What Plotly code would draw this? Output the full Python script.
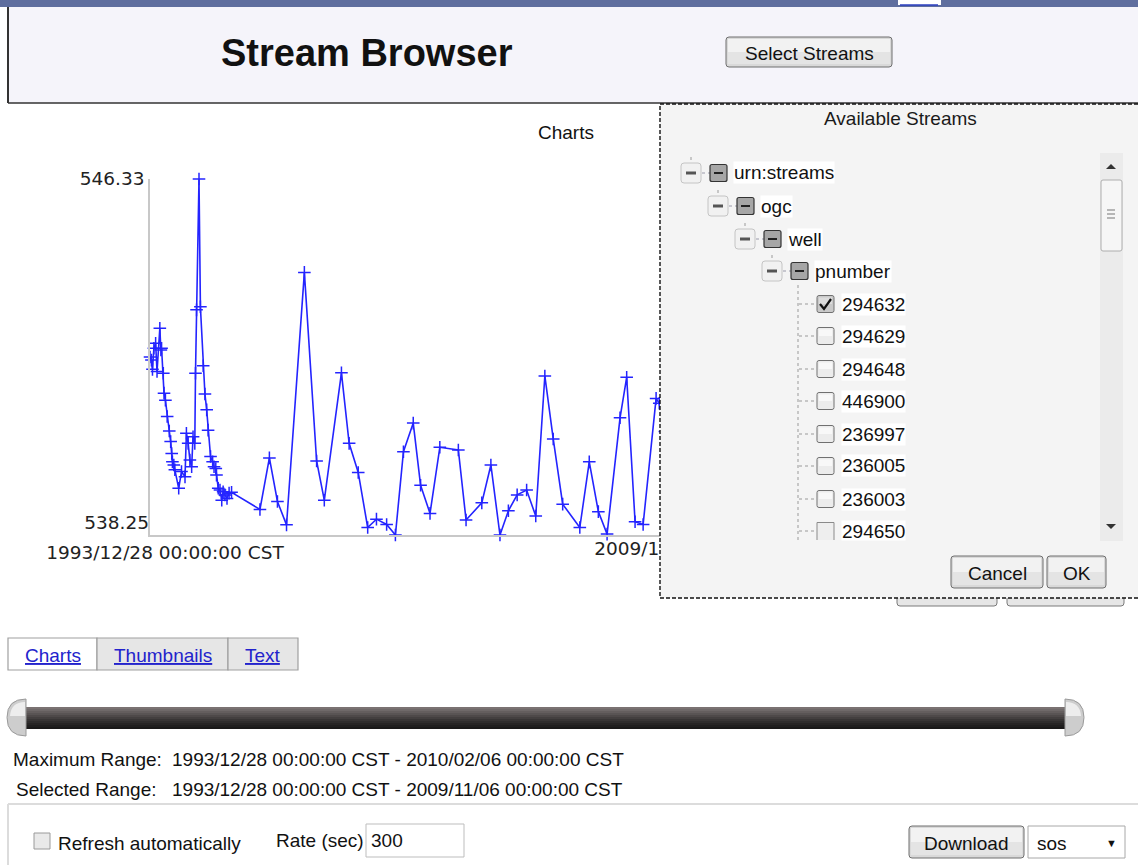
import datetime as dt
import plotly.graph_objects as go

# ---------------- data ----------------
years = [1993.99, 1994.03, 1994.06, 1994.10, 1994.15, 1994.19, 1994.27, 1994.30, 1994.32, 1994.37,
         1994.39, 1994.43, 1994.48, 1994.54, 1994.58, 1994.61, 1994.63, 1994.67, 1994.70, 1994.81,
         1994.89, 1994.99, 1995.03, 1995.08, 1995.13, 1995.18, 1995.22, 1995.27, 1995.29, 1995.32,
         1995.39, 1995.43, 1995.51, 1995.56, 1995.61, 1995.65, 1995.72, 1995.78, 1995.82, 1995.87,
         1995.89, 1995.94, 1995.99, 1996.04, 1996.08, 1996.13, 1996.19, 1996.25, 1996.32, 1997.13,
         1997.40, 1997.63, 1997.89, 1998.40, 1998.75, 1998.97, 1999.46, 1999.68, 1999.94, 2000.21,
         2000.46, 2000.75, 2001.00, 2001.23, 2001.51, 2001.72, 2001.99, 2002.27, 2002.80, 2003.02,
         2003.47, 2003.73, 2003.99, 2004.23, 2004.48, 2004.75, 2005.01, 2005.27, 2005.51, 2005.78,
         2006.27, 2006.54, 2006.80, 2007.05, 2007.42, 2007.61, 2007.85, 2008.08, 2008.45, 2008.54,
         2008.70]
levels = [542.29, 542.22, 542.01, 542.49, 542.60, 541.96, 542.94, 542.45, 542.49, 541.92,
          541.47, 541.31, 540.94, 540.61, 540.37, 540.10, 539.91, 539.84, 539.73, 539.31,
          539.69, 539.57, 540.56, 540.33, 539.95, 539.80, 540.48, 540.33, 541.92, 543.36,
          546.33, 543.43, 542.09, 541.45, 541.09, 540.63, 540.03, 539.91, 539.80, 539.76,
          539.61, 539.31, 539.27, 539.04, 539.23, 539.16, 539.08, 539.20, 539.22, 538.83,
          540.00, 539.01, 538.48, 544.21, 539.93, 539.04, 541.93, 540.33, 539.67, 538.42,
          538.61, 538.49, 538.25, 540.14, 540.79, 539.38, 538.74, 540.24, 540.18, 538.59,
          538.98, 539.84, 538.25, 538.80, 539.16, 539.27, 538.68, 541.86, 540.43, 538.95,
          538.42, 539.91, 538.78, 538.27, 540.91, 541.83, 538.55, 538.49, 541.35, 541.24,
          540.60]
x_range = ["1993-12-28", "2009-11-06"]
x_tick_text = ["1993/12/28 00:00:00 CST", "2009/11/06 00:00:00 CST"]
y_range = [538.25, 546.33]
y_tick_text = ["538.25", "546.33"]
tree_nodes = ["urn:streams", "ogc", "well", "pnumber"]
stream_ids = ["294632", "294629", "294648", "446900", "236997", "236005", "236003", "294650"]
checked = [True, False, False, False, False, False, False, False]
tabs = ["Charts", "Thumbnails", "Text"]
max_range = "1993/12/28 00:00:00 CST - 2010/02/06 00:00:00 CST"
sel_range = "1993/12/28 00:00:00 CST - 2009/11/06 00:00:00 CST"


def to_date(y):
    yr = int(y)
    start = dt.datetime(yr, 1, 1)
    days = (dt.datetime(yr + 1, 1, 1) - start).days
    return start + dt.timedelta(days=(y - yr) * days)


dates = [to_date(y) for y in years]

W, H = 1138, 865
UI = "Liberation Sans, Arial, sans-serif"
AX = "DejaVu Sans, Verdana, sans-serif"


def X(x):
    return x / W


def Y(y):
    return 1 - y / H


shapes = []
annotations = []


def rect(x0, y0, x1, y1, fill="rgba(0,0,0,0)", line=None, lw=1, dash="solid"):
    shapes.append(dict(type="rect", xref="paper", yref="paper",
                       x0=X(x0), y0=Y(y1), x1=X(x1), y1=Y(y0), fillcolor=fill,
                       line=dict(color=line if line else "rgba(0,0,0,0)",
                                 width=lw if line else 0, dash=dash), layer="above"))


def seg(x0, y0, x1, y1, color, lw=1, dash="solid"):
    shapes.append(dict(type="line", xref="paper", yref="paper",
                       x0=X(x0), y0=Y(y0), x1=X(x1), y1=Y(y1),
                       line=dict(color=color, width=lw, dash=dash), layer="above"))


def path(pts, fill, line=None, lw=1, closed=True):
    cmds = []
    for p in pts:
        if p[0] == "Q":
            cmds.append(f"Q {X(p[1])},{Y(p[2])} {X(p[3])},{Y(p[4])}")
        else:
            cmds.append(f"{p[0]} {X(p[1])},{Y(p[2])}")
    s = " ".join(cmds) + (" Z" if closed else "")
    shapes.append(dict(type="path", xref="paper", yref="paper", path=s, fillcolor=fill,
                       line=dict(color=line if line else "rgba(0,0,0,0)", width=lw if line else 0),
                       layer="above"))


def rrect(x0, y0, x1, y1, r, fill, line=None, lw=1):
    path([("M", x0 + r, y0), ("L", x1 - r, y0), ("Q", x1, y0, x1, y0 + r),
          ("L", x1, y1 - r), ("Q", x1, y1, x1 - r, y1), ("L", x0 + r, y1),
          ("Q", x0, y1, x0, y1 - r), ("L", x0, y0 + r), ("Q", x0, y0, x0 + r, y0)],
         fill, line, lw)


def text(x, y, s, size=19, color="#111111", anchor="left", family=UI, bg=None, **kw):
    d = dict(xref="paper", yref="paper", x=X(x), y=Y(y), text=s, showarrow=False,
             xanchor=anchor, yanchor=kw.pop("yanchor", "middle"),
             font=dict(family=family, size=size, color=color), borderpad=0)
    if bg:
        d["bgcolor"] = bg
    d.update(kw)
    annotations.append(d)


def button(x0, y0, x1, y1, label, size=19):
    rrect(x0, y0, x1, y1, 3, "#d9d9d9", "#6f6f6f", 1)
    rect(x0 + 2, y0 + 2, x1 - 2, (y0 + y1) / 2, fill="#f2f2f2")
    rect(x0 + 2, (y0 + y1) / 2, x1 - 2, y1 - 3, fill="#e4e4e4")
    text((x0 + x1) / 2, (y0 + y1) / 2 + 1, label, size=size, anchor="center")


# ---------------- page chrome ----------------
rect(0, 0, W, 7, fill="#5f6e9e")
rect(898, 0, 941, 5, fill="#ffffff")
seg(900, 5, 938, 5, "#2b3fc0", 1.5)
rect(8, 7, W + 2, 103, fill="#f5f4fa")
seg(8, 7, 8, 103, "#333333", 2)
seg(8, 103, W, 103, "#333333", 1.5)
text(367, 53, "<b>Stream Browser</b>", size=38, anchor="center")
button(726, 37, 892, 67, "Select Streams")

text(566, 133, "Charts", size=19, anchor="center")

# tabs
tab_x = [(8, 97), (97, 228), (228, 298)]
for i, (lbl, (a, b)) in enumerate(zip(tabs, tab_x)):
    rect(a, 638, b, 670, fill="#ffffff" if i == 0 else "#e6e6e6", line="#a0a0a0", lw=1.2)
    text((a + b) / 2, 655, f"<u>{lbl}</u>", size=19, color="#2323cc", anchor="center")

# slider
strip_cols = ["#7a7272", "#6f6969", "#645e5e", "#595454", "#4e4949", "#433f3f",
              "#383535", "#2f2d2d", "#272525", "#201f1f", "#1a1919"]
for i, c in enumerate(strip_cols):
    rect(20, 707 + 2 * i, 1070, 709 + 2 * i, fill=c)
path([("M", 26, 699), ("Q", 7, 699, 7, 717.5), ("Q", 7, 736, 26, 736)], "#cdcdcd", "#9a9a9a", 1)
path([("M", 25, 702), ("Q", 11, 702, 10, 716), ("L", 25, 716)], "#ededed")
path([("M", 1065, 699), ("Q", 1084, 699, 1084, 717.5), ("Q", 1084, 736, 1065, 736)], "#cdcdcd", "#9a9a9a", 1)
path([("M", 1066, 702), ("Q", 1080, 702, 1081, 716), ("L", 1066, 716)], "#ededed")

text(163, 759, "Maximum Range:", size=19, anchor="right")
text(171, 759, max_range, size=19)
text(158, 789, "Selected Range:", size=19, anchor="right")
text(171, 789, sel_range, size=19)

# bottom panel
seg(8, 804, W, 804, "#dcdcdc", 2)
seg(8, 804, 8, H, "#dcdcdc", 2)
rect(34, 833, 50, 849, fill="#e9e9e9", line="#9a9a9a", lw=1)
text(57, 843, "Refresh automatically", size=19)
text(275, 840, "Rate (sec)", size=19)
rect(366, 824, 464, 857, fill="#ffffff", line="#bdbdbd", lw=1)
text(370, 840, "300", size=19)
button(909, 826, 1024, 858, "Download")
rect(1028, 826, 1125, 858, fill="#ffffff", line="#a8a8a8", lw=1)
text(1036, 843, "sos", size=19)
text(1111, 843, "▼", size=11, anchor="center")

# buttons hidden behind dialog
rrect(897, 585, 997, 606, 3, "#e6e6e6", "#7a7a7a", 1)
rrect(1007, 585, 1124, 606, 3, "#e6e6e6", "#7a7a7a", 1)

# ---------------- dialog ----------------
rect(660, 104, W + 3, 598, fill="#f4f4f4", line="#111111", lw=1.4, dash="4px,2px")
text(900, 118, "Available Streams", size=19, color="#1a1a1a", anchor="center")

# scrollbar
rect(1100, 153, 1123, 541, fill="#ebebeb")
path([("M", 1106, 169), ("L", 1116, 169), ("L", 1111, 164)], "#333333")
rrect(1101, 180, 1122, 251, 2, "#f6f6f6", "#aeaeae", 1)
for gy in (210, 214, 218):
    seg(1107, gy, 1115, gy, "#777777", 1)
path([("M", 1106, 524), ("L", 1116, 524), ("L", 1111, 529)], "#333333")

# tree inner nodes
row_y = [173, 206, 239, 271]
for lvl, (lbl, ry) in enumerate(zip(tree_nodes, row_y)):
    tx = 681 + 27 * lvl
    seg(tx + 10, ry - 16, tx + 10, ry - 10, "#9a9a9a", 1, "dot")
    rrect(tx, ry - 10, tx + 20, ry + 10, 3, "#f1f1f1", "#c4c4c4", 1)
    seg(tx + 5, ry, tx + 15, ry, "#555555", 3)
    seg(tx + 21, ry, tx + 29, ry, "#9a9aaa", 1, "dot")
    bx = tx + 29
    rrect(bx, ry - 8.5, bx + 17, ry + 8.5, 2, "#a6a6a6", "#333333", 1.2)
    seg(bx + 4, ry, bx + 13, ry, "#222222", 2)
    text(bx + 23, ry, lbl, size=19, bg="#ffffff")

# leaves
leaf_y = [304, 336, 369, 401, 434, 466, 499, 531]
seg(798, 285, 798, 540, "#9a9a9a", 1, "dot")
for i, (sid, ly, ck) in enumerate(zip(stream_ids, leaf_y, checked)):
    seg(799, ly, 816, ly, "#9a9a9a", 1, "dot")
    last = i == len(stream_ids) - 1
    bottom = 540 if last else ly + 8.5
    if last:
        rect(817, ly - 8.5, 834, bottom, fill="#eeeeee")
        seg(817, ly - 8.5, 834, ly - 8.5, "#8a8a8a", 1)
        seg(817, ly - 8.5, 817, bottom, "#8a8a8a", 1)
        seg(834, ly - 8.5, 834, bottom, "#8a8a8a", 1)
        text(841, ly - 11, sid, size=19, bg="#ffffff", yanchor="top",
             height=19, valign="top")
    else:
        rrect(817, ly - 8.5, 834, ly + 8.5, 2, "#c9c9c9" if ck else "#ececec", "#707070", 1)
        rect(819, ly - 6.5, 832, ly, fill="#dcdcdc" if ck else "#f8f8f8")
        if ck:
            path([("M", 820, ly), ("L", 824, ly + 5), ("L", 831, ly - 5)], "rgba(0,0,0,0)",
                 "#111111", 2.2, closed=False)
        text(841, ly, sid, size=19, bg="#ffffff")

# dialog buttons
button(951, 556, 1043, 588, "Cancel")
button(1047, 556, 1106, 588, "OK")

# ---------------- chart ----------------
fig = go.Figure()
fig.add_trace(go.Scatter(
    x=dates, y=levels, mode="lines+markers",
    line=dict(color="#2424ff", width=1.6),
    marker=dict(symbol="cross-thin", size=9, color="#2424ff", line=dict(color="#2424ff", width=1.5)),
    cliponaxis=False, hoverinfo="skip", showlegend=False))
# empty helper trace so the overlay axes (used only for label placement) exist
fig.add_trace(go.Scatter(x=[], y=[], xaxis="x2", yaxis="y2", showlegend=False, hoverinfo="skip"))

tickfont = dict(family=AX, size=18.5, color="#222222")
fig.update_layout(
    width=W, height=H, margin=dict(l=0, r=0, t=0, b=0, pad=0),
    paper_bgcolor="#ffffff", plot_bgcolor="#ffffff", showlegend=False,
    xaxis=dict(domain=[X(150), X(705)], type="date", range=x_range,
               tickvals=x_range[:1], ticktext=x_tick_text[:1], showgrid=False, zeroline=False,
               showline=True, linecolor="#c8c8c8", linewidth=1.5, ticks="",
               tickfont=tickfont, ticklabelshift=15, automargin=False, fixedrange=True),
    yaxis=dict(domain=[Y(535), Y(179)], range=y_range,
               tickvals=y_range[1:], ticktext=y_tick_text[1:], showgrid=False, zeroline=False,
               showline=True, linecolor="#c8c8c8", linewidth=1.5, ticks="",
               tickfont=tickfont, automargin=False, fixedrange=True),
    xaxis2=dict(overlaying="x", anchor="y", type="date", range=x_range,
                tickvals=x_range[1:], ticktext=x_tick_text[1:], showgrid=False, zeroline=False,
                showline=False, ticks="", tickfont=tickfont, ticklabelshift=8,
                automargin=False, fixedrange=True, side="bottom"),
    yaxis2=dict(overlaying="y", anchor="x", range=y_range,
                tickvals=y_range[:1], ticktext=y_tick_text[:1], showgrid=False, zeroline=False,
                showline=False, ticks="", tickfont=tickfont, ticklabelposition="outside top",
                automargin=False, fixedrange=True, side="left"),
    shapes=shapes, annotations=annotations,
)

fig.write_html("out.html", config={"displayModeBar": False},
               post_script="document.body.style.margin='0';document.body.style.overflow='hidden';")
